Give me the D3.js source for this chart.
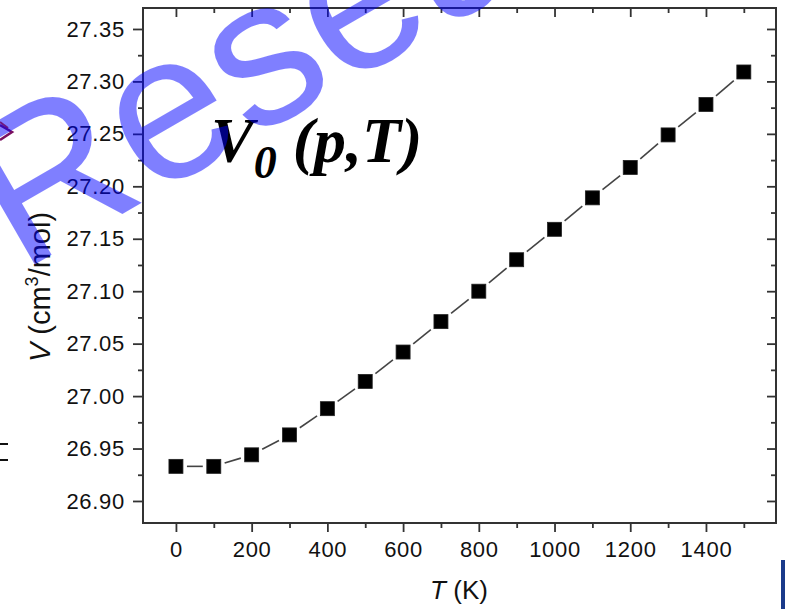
<!DOCTYPE html>
<html>
<head>
<meta charset="utf-8">
<script src="https://cdn.jsdelivr.net/npm/d3@7"></script>
<style>
  body { margin: 0; background: #fff; }
  svg { display: block; }
</style>
</head>
<body>
<svg id="chart" width="785" height="609"></svg>
<script>
// temperatures (K) and molar volume V0 (cm3/mol)
const temps = [0, 100, 200, 300, 400, 500, 600, 700, 800, 900, 1000, 1100, 1200, 1300, 1400, 1500];
const volumes = [26.933, 26.933, 26.944, 26.963, 26.988, 27.014, 27.042, 27.071,
                 27.100, 27.130, 27.159, 27.189, 27.218, 27.249, 27.278, 27.309];
const xTicks = [0, 200, 400, 600, 800, 1000, 1200, 1400];
const xMinor = [100, 300, 500, 700, 900, 1100, 1300, 1500];
const yTicks = [26.90, 26.95, 27.00, 27.05, 27.10, 27.15, 27.20, 27.25, 27.30, 27.35];
const yMinor = [26.925, 26.975, 27.025, 27.075, 27.125, 27.175, 27.225, 27.275, 27.325];

const svg = d3.select("#chart");
const frame = { left: 143, top: 8, right: 776, bottom: 523 };

const x = d3.scaleLinear().domain([-87, 1585]).range([frame.left, frame.right]);
const y = d3.scaleLinear().domain([26.879, 27.370]).range([frame.bottom, frame.top]);

const sans = "'Liberation Sans', Arial, sans-serif";
const axisColor = "#333";

function styleAxis(g) {
  g.select(".domain").remove();
  g.selectAll("line").attr("stroke", axisColor).attr("stroke-width", 1.8);
  g.selectAll("text").attr("fill", "#111").attr("font-family", sans)
    .attr("font-size", 22).attr("letter-spacing", 0.7);
}

// bottom axis, outward ticks
svg.append("g").attr("transform", `translate(0,${frame.bottom})`)
  .call(d3.axisBottom(x).tickValues(xTicks).tickSize(9).tickPadding(9).tickFormat(d3.format("d")))
  .call(styleAxis);
svg.append("g").attr("transform", `translate(0,${frame.bottom})`)
  .call(d3.axisBottom(x).tickValues(xMinor).tickSize(5).tickFormat(""))
  .call(styleAxis);

// top axis, inward ticks
svg.append("g").attr("transform", `translate(0,${frame.top})`)
  .call(d3.axisTop(x).tickValues(xTicks).tickSize(-9).tickFormat(""))
  .call(styleAxis);
svg.append("g").attr("transform", `translate(0,${frame.top})`)
  .call(d3.axisTop(x).tickValues(xMinor).tickSize(-5).tickFormat(""))
  .call(styleAxis);

// left axis, outward ticks
svg.append("g").attr("transform", `translate(${frame.left},0)`)
  .call(d3.axisLeft(y).tickValues(yTicks).tickSize(10).tickPadding(8).tickFormat(d3.format(".2f")))
  .call(styleAxis);
svg.append("g").attr("transform", `translate(${frame.left},0)`)
  .call(d3.axisLeft(y).tickValues(yMinor).tickSize(5).tickFormat(""))
  .call(styleAxis);

// right axis, inward ticks
svg.append("g").attr("transform", `translate(${frame.right},0)`)
  .call(d3.axisRight(y).tickValues(yTicks).tickSize(-9).tickFormat(""))
  .call(styleAxis);
svg.append("g").attr("transform", `translate(${frame.right},0)`)
  .call(d3.axisRight(y).tickValues(yMinor).tickSize(-5).tickFormat(""))
  .call(styleAxis);

// frame
svg.append("rect")
  .attr("x", frame.left).attr("y", frame.top)
  .attr("width", frame.right - frame.left).attr("height", frame.bottom - frame.top)
  .attr("fill", "none").attr("stroke", axisColor).attr("stroke-width", 2);

// connecting line with gaps at the markers
const pts = temps.map((t, i) => [x(t), y(volumes[i])]);
const half = 7, gap = 4;
const segs = d3.pairs(pts).map(([a, b]) => {
  const dx = b[0] - a[0], dy = b[1] - a[1];
  const len = Math.hypot(dx, dy);
  const ux = dx / len, uy = dy / len;
  const cut = half / Math.max(Math.abs(ux), Math.abs(uy)) + gap;
  return [[a[0] + ux * cut, a[1] + uy * cut], [b[0] - ux * cut, b[1] - uy * cut]];
});
svg.append("g").selectAll("line").data(segs).join("line")
  .attr("x1", d => d[0][0]).attr("y1", d => d[0][1])
  .attr("x2", d => d[1][0]).attr("y2", d => d[1][1])
  .attr("stroke", "#444").attr("stroke-width", 1.6);

// square markers
svg.append("g").selectAll("rect").data(temps).join("rect")
  .attr("x", (d, i) => x(d) - half)
  .attr("y", (d, i) => y(volumes[i]) - half)
  .attr("width", half * 2).attr("height", half * 2)
  .attr("fill", "#000").attr("stroke", "#222").attr("stroke-width", 0.8);

// axis titles
svg.append("text")
  .attr("x", 459).attr("y", 599)
  .attr("text-anchor", "middle")
  .attr("font-family", sans).attr("font-size", 26).attr("fill", "#111")
  .call(t => {
    t.append("tspan").attr("font-style", "italic").text("T");
    t.append("tspan").text(" (K)");
  });

svg.append("text")
  .attr("transform", "translate(50,287) rotate(-90)")
  .attr("text-anchor", "middle")
  .attr("font-family", sans).attr("font-size", 29).attr("fill", "#111")
  .call(t => {
    t.append("tspan").attr("font-style", "italic").text("V");
    t.append("tspan").text(" (cm");
    t.append("tspan").attr("font-size", 18).attr("dy", -12).text("3");
    t.append("tspan").attr("dy", 12).text("/mol)");
  });

// in-plot title V0 (p,T)
svg.append("text")
  .attr("x", 211).attr("y", 162)
  .attr("font-family", "'Liberation Serif', 'Times New Roman', serif")
  .attr("font-weight", "bold").attr("font-style", "italic")
  .attr("font-size", 64).attr("fill", "#000")
  .call(t => {
    t.append("tspan").text("V");
    t.append("tspan").attr("font-size", 46).attr("dy", 16).text("0");
    t.append("tspan").attr("dy", -16).text(" (p,T)");
  });

// slide fragments at the edges
svg.append("path").attr("d", "M0,122 L8,128").attr("stroke", "#e03000").attr("stroke-width", 2).attr("fill", "none");
svg.append("path").attr("d", "M0,125 L12,132 L0,140").attr("stroke", "#7a1060").attr("stroke-width", 2.5).attr("fill", "none");
svg.append("path").attr("d", "M0,444 H8 M0,460 H8").attr("stroke", "#111").attr("stroke-width", 2);
svg.append("rect").attr("x", 781).attr("y", 560).attr("width", 4).attr("height", 49).attr("fill", "#1a3a8a");

// watermark on top
svg.append("text")
  .attr("transform", "translate(20,273) rotate(-30)")
  .attr("font-family", sans).attr("font-size", 208)
  .attr("fill", "#0000ff").attr("fill-opacity", 0.5)
  .text("Research");
</script>
</body>
</html>
